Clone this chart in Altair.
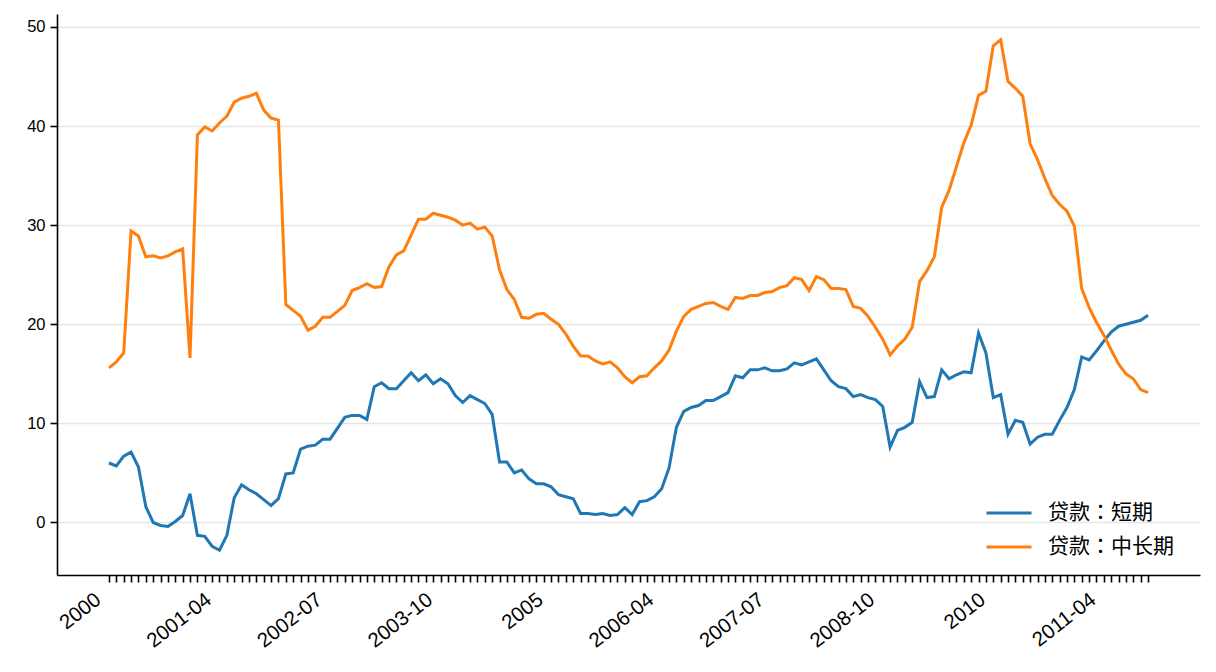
import altair as alt
import pandas as pd

# monthly data 2000-01 .. 2011-10
months = [f"{y}-{m:02d}" for y in range(2000, 2012) for m in range(1, 13)][:142]

short_term = [
    6.0, 5.7, 6.7, 7.1, 5.6, 1.6, 0.0, -0.3, -0.4, 0.1, 0.7, 2.9,
    -1.3, -1.4, -2.4, -2.8, -1.3, 2.5, 3.8, 3.3, 2.9, 2.3, 1.7, 2.4,
    4.9, 5.0, 7.4, 7.7, 7.8, 8.4, 8.4, 9.5, 10.6, 10.8, 10.8, 10.4,
    13.7, 14.1, 13.5, 13.5, 14.3, 15.1, 14.3, 14.9, 14.0, 14.5, 14.0, 12.8,
    12.1, 12.8, 12.4, 12.0, 10.9, 6.1, 6.1, 5.0, 5.3, 4.4, 3.9, 3.9,
    3.6, 2.8, 2.6, 2.4, 0.9, 0.9, 0.8, 0.9, 0.7, 0.8, 1.5, 0.8,
    2.1, 2.2, 2.6, 3.4, 5.5, 9.6, 11.2, 11.6, 11.8, 12.3, 12.3, 12.7,
    13.1, 14.8, 14.6, 15.4, 15.4, 15.6, 15.3, 15.3, 15.5, 16.1, 15.9, 16.2,
    16.5, 15.4, 14.3, 13.7, 13.5, 12.7, 12.9, 12.6, 12.4, 11.7, 7.6, 9.3,
    9.6, 10.1, 14.2, 12.6, 12.7, 15.4, 14.5, 14.9, 15.2, 15.1, 19.1, 17.1,
    12.6, 12.9, 8.9, 10.3, 10.1, 7.9, 8.6, 8.9, 8.9, 10.3, 11.6, 13.4,
    16.7, 16.4, 17.3, 18.3, 19.2, 19.8, 20.0, 20.2, 20.4, 20.9,
]

mid_long_term = [
    15.6, 16.2, 17.1, 29.4, 28.9, 26.8, 26.9, 26.7, 26.9, 27.3, 27.6, 16.6,
    39.1, 39.9, 39.5, 40.3, 41.0, 42.4, 42.8, 43.0, 43.3, 41.6, 40.8, 40.6,
    22.0, 21.4, 20.8, 19.4, 19.8, 20.7, 20.7, 21.3, 21.9, 23.4, 23.7, 24.1,
    23.7, 23.8, 25.8, 27.0, 27.4, 29.0, 30.6, 30.6, 31.2, 31.0, 30.8, 30.5,
    30.0, 30.2, 29.6, 29.8, 28.9, 25.5, 23.5, 22.5, 20.7, 20.6, 21.0, 21.1,
    20.5, 20.0, 19.0, 17.8, 16.8, 16.8, 16.3, 16.0, 16.2, 15.6, 14.7, 14.1,
    14.7, 14.8, 15.6, 16.3, 17.4, 19.3, 20.8, 21.5, 21.8, 22.1, 22.2, 21.8,
    21.5, 22.7, 22.6, 22.9, 22.9, 23.2, 23.3, 23.7, 23.9, 24.7, 24.5, 23.4,
    24.8, 24.5, 23.6, 23.6, 23.5, 21.8, 21.6, 20.8, 19.7, 18.5, 16.9, 17.8,
    18.5, 19.7, 24.3, 25.4, 26.8, 31.8, 33.5, 35.9, 38.3, 40.1, 43.1, 43.5,
    48.1, 48.7, 44.5, 43.8, 43.0, 38.2, 36.6, 34.7, 33.0, 32.1, 31.4, 29.9,
    23.6, 21.7, 20.2, 18.9, 17.4, 16.0, 15.0, 14.5, 13.4, 13.1,
]

series_names = ["贷款：短期", "贷款：中长期"]
series_colors = ["#1f77b4", "#ff7f0e"]

label_idx = [0, 15, 30, 45, 60, 75, 90, 105, 120, 135]
label_text = ["2000", "2001-04", "2002-07", "2003-10", "2005",
              "2006-04", "2007-07", "2008-10", "2010", "2011-04"]

y_ticks = [0, 10, 20, 30, 40, 50]

rows = []
for i, m in enumerate(months):
    rows.append({"idx": i, "month": m, "series": series_names[0], "value": short_term[i]})
    rows.append({"idx": i, "month": m, "series": series_names[1], "value": mid_long_term[i]})
df = pd.DataFrame(rows)

expr = "''"
for i, t in zip(reversed(label_idx), reversed(label_text)):
    expr = f"datum.value == {i} ? '{t}' : ({expr})"

x_enc = alt.X(
    "idx:Q",
    scale=alt.Scale(domain=[-7.05, 148.05], nice=False, zero=False),
    axis=alt.Axis(
        values=list(range(len(months))), labelExpr=expr, labelAngle=-38,
        labelAlign="right", labelBaseline="top", labelOverlap=False,
        labelFlush=False, grid=False, title=None, tickSize=7, tickWidth=1.6,
        tickColor="black", domainColor="black", domainWidth=1.6,
        labelFontSize=20.5, labelFont="Liberation Sans", labelColor="black",
        labelPadding=7, labelOffset=-17, labelLimit=300,
    ),
)
y_enc = alt.Y(
    "value:Q",
    scale=alt.Scale(domain=[-5.3, 51.3], nice=False, zero=False),
    axis=alt.Axis(
        values=y_ticks, grid=True, gridColor="#e5e5e5", gridWidth=1.4,
        title=None, tickSize=7, tickWidth=1.6, tickColor="black",
        domainColor="black", domainWidth=1.6, labelFontSize=16.5,
        labelFont="Liberation Sans", labelColor="black", labelPadding=5,
    ),
)
color_enc = alt.Color(
    "series:N",
    scale=alt.Scale(domain=series_names, range=series_colors),
    legend=alt.Legend(
        title=None, orient="none", legendX=928, legendY=475, padding=0,
        symbolType="stroke", symbolSize=2025, symbolStrokeWidth=3,
        labelFont="Noto Sans CJK JP", labelFontSize=21, labelColor="black",
        labelOffset=15, rowPadding=-12,
    ),
)

base = alt.Chart(df).encode(x=x_enc, y=y_enc, color=color_enc)
blue = base.transform_filter(alt.datum.series == series_names[0]).mark_line(strokeWidth=3)
orange = base.transform_filter(alt.datum.series == series_names[1]).mark_line(strokeWidth=3)

chart = alt.layer(blue, orange).properties(
    width=1143, height=561,
    autosize=alt.AutoSizeParams(type="none"),
    padding={"left": 49, "top": 6, "right": 8, "bottom": 90},
).configure_view(stroke=None)

chart.save("out.html", embed_options={"renderer": "svg", "actions": False})
